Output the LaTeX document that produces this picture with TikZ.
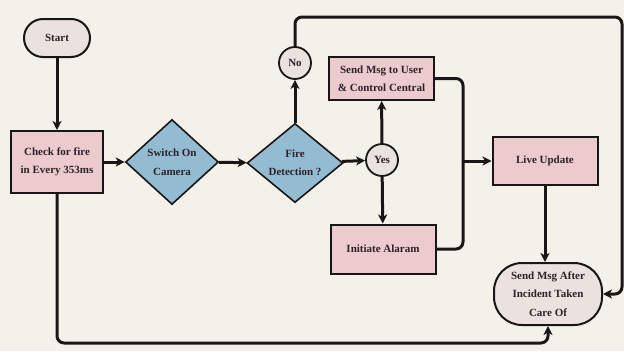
\documentclass[tikz,border=0pt]{standalone}
\usepackage{fontspec}
\setmainfont{Liberation Serif}
\usetikzlibrary{shapes.geometric,arrows.meta,calc}
\definecolor{bg}{HTML}{F4F1EA}
\definecolor{pinkbox}{HTML}{EBCBCD}
\definecolor{bluedia}{HTML}{93BCD3}
\definecolor{greyfill}{HTML}{EAE2DE}
\definecolor{ink}{HTML}{1A1616}
\definecolor{txt}{HTML}{2E2228}
\begin{document}
\begin{tikzpicture}[x=1pt,y=-1pt,
  every node/.style={font=\bfseries\fontsize{11}{18.5}\selectfont, text=txt, align=center, inner sep=0pt},
  box/.style={draw=ink, line width=2pt, fill=pinkbox},
  dia/.style={diamond, draw=ink, line width=1.6pt, fill=bluedia},
  pill/.style={draw=ink, line width=2pt, fill=greyfill},
  circ/.style={circle, draw=ink, line width=1.8pt, fill=greyfill, minimum size=32pt},
  conn/.style={draw=ink, line width=3pt, rounded corners=7pt, -{Stealth[length=9pt,width=9pt,inset=2.5pt]}},
  link/.style={draw=ink, line width=3pt, rounded corners=7pt}
]
\fill[bg] (0,0) rectangle (624,351);
\useasboundingbox (0,0) rectangle (624,351);

\node[pill, rounded corners=19pt, minimum width=66pt, minimum height=38pt] (start) at (57,38) {Start};
\node[box, minimum width=92pt, minimum height=62pt] (check) at (57,162) {Check for fire\\in Every 353ms};
\node[dia, minimum width=93pt, minimum height=85pt] (switch) at (172,162) {Switch On\\Camera};
\node[dia, minimum width=96pt, minimum height=74pt] (fire) at (295,163) {Fire\\Detection ?};
\node[circ] (no) at (295,63) {No};
\node[circ] (yes) at (382,160) {Yes};
\node[box, minimum width=105pt, minimum height=43pt] (sendu) at (381.5,78.5) {Send Msg to User\\\& Control Central};
\node[box, minimum width=105pt, minimum height=49pt] (alarm) at (383,249) {Initiate Alaram};
\node[box, minimum width=105pt, minimum height=48pt] (live) at (545,161) {Live Update};
\node[pill, rounded corners=28pt, minimum width=108pt, minimum height=62pt] (sad) at (548,294) {Send Msg After\\Incident Taken\\Care Of};

\coordinate (m) at (463,161);
\coordinate (tr) at (622,17);
\coordinate (bot) at (300,343);

\draw[conn] (start) -- (check);
\draw[conn] (check) -- (switch);
\draw[conn] (switch) -- (fire);
\draw[conn] (fire) -- (yes);
\draw[conn] (fire.north) -- (no.south);
\draw[conn] (yes) -- (sendu);
\draw[conn] (yes) -- (alarm);
\draw[link] (sendu.east) -| (m);
\draw[link] (alarm.east) -| (m);
\draw[conn] (m) -- (live.west);
\draw[conn] (live.south) -- (live.south |- sad.north);
\draw[conn] (no.north) |- (tr) |- (sad.east);
\draw[conn] (check.south) |- (bot) -| (sad.south);
\end{tikzpicture}
\end{document}
